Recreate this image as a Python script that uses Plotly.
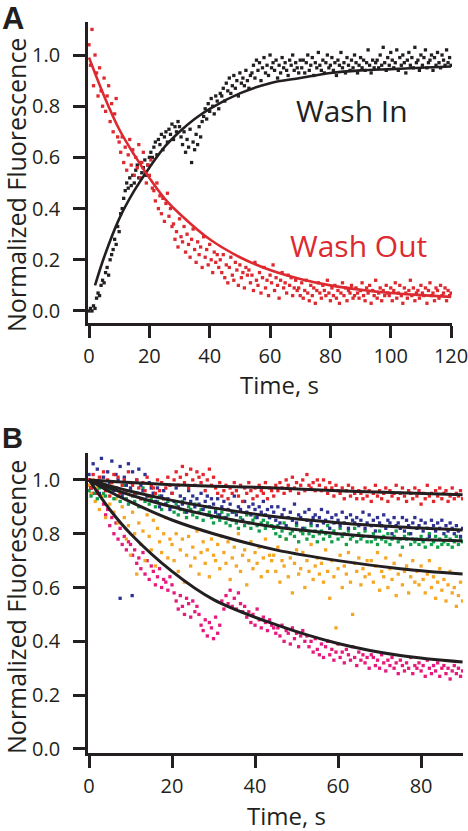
import numpy as np
import plotly.graph_objects as go

W, H = 468, 831
FONT = "Open Sans"
INK = "#231f20"

# ---------------- Panel A (values x100, sampled every 0.5 s) ----------------
a_step = 0.5
wash_in_x100 = [0,1,0,2,1, 5,7,6,10,12,11, 15,17,14,20,22, 24,28,26,33,31,38,40,
    44,47,50,48,52,49, 53,50,55,57,52,58,54,56,59,53,57,60,
    62,60,64,66,61,67,65,69,63,68,70,66,71,69,73,67,72,70,74,
    72,68,65,70,62,67,64,71,58,66,63,69,65,72,68,74,
    76,79,75,81,78,83,80,77,84,82,79,85,
    84,87,82,89,86,91,85,88,92,87,90,84,93,89,91,88,94,90,87,92,
    93,96,91,98,94,97,90,95,99,93,96,92,100,95,97,94,98,91,96,93,99,95,97,94,92,98,96,100,94,97,95,93,98,
    95,98,93,97,100,94,96,99,92,97,95,101,96,94,98,93,97,100,95,96,99,94,97,92,98,96,101,95,97,93,99,96,94,98,95,100,97,93,96,99,95,98,94,97,102,96,93,98,95,97,
    98,95,100,96,103,97,94,99,96,101,98,95,97,102,94,99,96,100,97,93,98,101,96,99,95,103,97,98,94,100,96,99,102,95,97,98,100,94,99,96,101,97,95,100,98,96,102,97,99,96]
wash_out_x100 = [104,96,110,88,100,93,84,
    95,86,80,91,78,84,88,74,81,70,77,83,68,
    66,62,68,58,64,55,61,67,57,63,53,60,56,65,52,58,62,54,50,57,53,59,48,
    47,43,50,40,45,38,44,35,42,46,37,40,33,
    34,28,31,25,36,29,27,33,23,30,26,21,28,32,24,19,27,22,25,17,29,21,24,18,26,20,15,23,19,22,17,
    20,15,22,13,18,11,17,21,14,12,19,16,10,18,13,15,9,17,14,
    16,11,14,8,19,12,10,15,7,13,17,9,12,6,14,11,18,8,13,10,5,12,15,9,11,7,14,10,13,6,9,12,8,
    9,6,11,5,8,12,7,4,10,6,9,3,8,11,7,5,10,8,6,12,
    7,4,9,6,10,5,8,3,7,11,6,9,4,8,7,10,5,6,9,7,
    5,8,11,6,4,9,7,10,3,8,6,12,5,7,9,4,8,6,10,7,
    6,9,4,8,11,5,7,10,6,3,9,7,5,8,12,6,9,4,7,8,
    5,10,7,6,9,3,8,11,6,7,4,9,8,5,10,6,7,9,4,8,6,7]
wash_in_fit_t = [2, 5, 10, 15, 20, 25, 30, 35, 40, 50, 60, 70, 80, 90, 100, 110, 120]
wash_in_fit = [0.10, 0.21, 0.36, 0.47, 0.56, 0.64, 0.70, 0.75, 0.79, 0.85, 0.89, 0.91, 0.93, 0.94, 0.945, 0.95, 0.955]
wash_out_fit_t = [0, 5, 10, 15, 20, 25, 30, 40, 50, 60, 70, 80, 90, 100, 110, 120]
wash_out_fit = [0.99, 0.84, 0.71, 0.61, 0.52, 0.44, 0.38, 0.28, 0.21, 0.16, 0.125, 0.10, 0.083, 0.07, 0.062, 0.055]
a_xticks = [0, 20, 40, 60, 80, 100, 120]
yticks = [0.0, 0.2, 0.4, 0.6, 0.8, 1.0]

# ---------------- Panel B (values x100, sampled every 0.5 s) ----------------
b_step = 0.5
b_red_x100 = [100,97,102,99,95,101,98,103,96,100,94,99,102,97,101,95,98,100,96,103,99,
    98,95,100,97,93,99,96,101,94,98,97,95,100,96,99,93,97,101,98,95,
    100,103,98,101,105,99,102,97,104,100,98,103,101,99,102,96,100,104,98,101,
    97,95,99,94,96,98,93,97,95,99,96,94,98,92,97,95,99,96,93,97,94,98,96,95,99,93,97,96,94,98,
    96,99,97,95,100,98,96,101,97,99,95,98,100,96,102,98,97,99,96,100,
    98,96,100,97,95,99,97,94,98,96,95,97,93,96,98,94,97,95,93,96,
    95,93,97,94,96,92,95,98,94,96,93,95,97,92,96,94,95,98,93,95,97,94,92,96,95,93,97,94,96,91,95,93,98,94,95,92,96,94,97,93,95,96,92,94,97,93,95,94,96,93]
b_blue_x100 = [102,97,106,99,104,95,108,101,97,103,99,107,96,102,100,105,94,101,98,106,97,103,95,100,104,98,96,102,94,99,97,
    95,92,97,90,94,96,91,93,89,95,92,97,90,94,91,93,88,96,92,94,90,93,91,95,89,92,94,90,93,
    91,88,93,87,90,92,86,89,91,88,94,87,90,89,85,92,88,90,87,91,89,86,90,88,92,87,89,86,90,
    88,85,90,84,87,89,83,86,88,85,91,84,87,86,82,88,85,89,84,86,
    87,83,86,89,84,85,88,82,86,84,87,85,83,88,84,86,82,87,85,84,
    86,83,85,88,82,84,87,83,85,81,86,84,83,87,82,85,84,80,86,83,
    84,82,86,81,85,83,80,84,86,82,83,85,81,84,82,79,85,83,81,84,
    82,85,80,83,81,84,82,80,83,81,79,82]
b_blue_outlier_t = [7.5, 10.4]
b_blue_outlier_x100 = [56, 57]
b_green_x100 = [96,94,98,95,93,97,99,95,94,97,96,
    96,93,97,94,92,95,98,93,91,96,94,92,95,90,93,97,92,94,91,93,95,90,92,94,89,93,91,92,90,
    90,88,91,87,89,92,88,86,90,89,87,91,86,88,89,85,90,87,88,86,84,89,87,85,88,
    86,84,87,83,85,88,84,82,86,85,83,87,84,82,85,86,83,81,84,85,82,84,86,83,
    82,80,83,79,81,84,78,82,80,81,79,83,77,81,80,82,78,80,83,79,81,77,80,
    81,78,80,83,79,77,81,80,78,82,79,80,76,81,78,79,82,77,80,78,79,81,77,
    79,77,80,78,76,81,78,79,77,80,76,78,79,81,77,78,75,79,78,80,76,78,77,
    78,76,79,77,75,78,80,76,77,79,75,78,76,77,79,76,78,75,77,79,76,78,77]
b_orange_x100 = [98,95,100,92,97,89,101,94,86,96,91,99,88,93,84,95,90,
    86,78,83,72,88,80,65,84,76,81,70,87,79,74,85,68,82,77,73,80,86,71,78,
    76,70,80,66,74,78,62,72,79,68,75,71,81,65,73,77,69,74,64,78,72,70,76,67,79,
    73,69,77,63,71,75,68,80,66,72,74,61,70,77,67,73,69,75,64,71,78,66,72,70,
    72,66,75,62,70,68,78,64,71,58,69,74,65,67,73,60,70,66,76,63,68,71,65,
    69,62,74,66,56,70,64,45,67,72,60,68,65,73,62,50,69,66,71,61,67,64,70,
    65,70,62,68,73,59,66,64,71,60,67,63,69,57,65,72,61,66,68,58,64,70,62,
    66,61,68,63,58,65,70,60,64,56,62,67,59,63,55,61,66,58,60,53,57,62,55]
b_pink_x100 = [100,97,95,99,96,98,94,
    91,87,89,83,86,80,84,78,82,76,79,74,77,
    76,72,74,69,71,67,73,65,70,63,68,66,61,64,67,60,63,62,59,64,61,
    58,55,52,57,53,50,56,54,49,55,51,53,
    50,46,44,48,42,47,45,41,49,43,46,
    55,52,57,54,59,53,56,52,58,54,51,
    53,49,51,47,50,46,52,48,45,49,47,44,48,46,45,43,
    45,42,46,40,44,43,39,45,41,43,38,42,44,40,
    42,38,40,36,41,37,35,39,34,38,40,35,37,33,36,39,34,36,32,37,35,33,38,34,31,36,33,35,32,34,30,35,
    34,31,33,30,35,32,29,33,31,34,30,32,28,33,31,29,32,30,34,28,31,30,
    32,29,31,27,33,30,28,31,29,32,27,30,31,28,30,26,29,31,28,30,27,29]
b_fit_t = [0, 5, 10, 20, 30, 45, 60, 75, 90]
b_fit_red = [1.0, 0.995, 0.99, 0.982, 0.976, 0.97, 0.96, 0.952, 0.945]
b_fit_blue = [1.0, 0.978, 0.958, 0.924, 0.896, 0.863, 0.841, 0.825, 0.814]
b_fit_green = [1.0, 0.97, 0.944, 0.90, 0.865, 0.825, 0.80, 0.782, 0.773]
b_fit_orange = [1.0, 0.956, 0.918, 0.851, 0.80, 0.74, 0.70, 0.67, 0.65]
b_fit_pink = [1.0, 0.89, 0.80, 0.66, 0.555, 0.462, 0.392, 0.347, 0.323]
b_xticks = [0, 20, 40, 60, 80]

RED_A = "#dc2a30"
B_COLORS = {"red": "#e3262d", "blue": "#2e3192", "green": "#10a04a",
            "orange": "#f5a623", "pink": "#e61a7d"}


def times(vals, step):
    return np.arange(len(vals)) * step


def dots(t, v, color, xa, ya, size=3.3):
    return go.Scatter(x=t, y=np.array(v) / 100.0, mode="markers", xaxis=xa, yaxis=ya,
                      marker=dict(symbol="square", size=size, color=color, line=dict(width=0)),
                      showlegend=False, hoverinfo="skip")


def fitline(t, v, color, xa, ya, width=2.6):
    return go.Scatter(x=t, y=v, mode="lines", xaxis=xa, yaxis=ya,
                      line=dict(color=color, width=width, shape="spline"),
                      showlegend=False, hoverinfo="skip")


fig = go.Figure()
# Panel A
fig.add_trace(dots(times(wash_in_x100, a_step), wash_in_x100, INK, "x", "y"))
fig.add_trace(dots(times(wash_out_x100, a_step), wash_out_x100, RED_A, "x", "y"))
fig.add_trace(fitline(wash_in_fit_t, wash_in_fit, INK, "x", "y"))
fig.add_trace(fitline(wash_out_fit_t, wash_out_fit, RED_A, "x", "y"))
# Panel B
fig.add_trace(dots(times(b_pink_x100, b_step), b_pink_x100, B_COLORS["pink"], "x2", "y2"))
fig.add_trace(dots(times(b_orange_x100, b_step), b_orange_x100, B_COLORS["orange"], "x2", "y2"))
fig.add_trace(dots(times(b_green_x100, b_step), b_green_x100, B_COLORS["green"], "x2", "y2"))
fig.add_trace(dots(times(b_blue_x100, b_step), b_blue_x100, B_COLORS["blue"], "x2", "y2"))
fig.add_trace(dots(b_blue_outlier_t, b_blue_outlier_x100, B_COLORS["blue"], "x2", "y2"))
fig.add_trace(dots(times(b_red_x100, b_step), b_red_x100, B_COLORS["red"], "x2", "y2"))
for fv in [b_fit_red, b_fit_blue, b_fit_green, b_fit_orange, b_fit_pink]:
    fig.add_trace(fitline(b_fit_t, fv, INK, "x2", "y2", width=3))


def px_x(p):
    return p / W


def px_y(p):
    return 1 - p / H


axis_common = dict(showline=True, linecolor=INK, linewidth=2.6, ticks="outside", ticklen=12,
                   tickwidth=2.6, tickcolor=INK, showgrid=False, zeroline=False,
                   ticklabeloverflow="allow", automargin=False,
                   tickfont=dict(family=FONT, size=20, color=INK))

fig.update_layout(
    width=W, height=H, margin=dict(l=0, r=0, t=0, b=0, pad=0),
    paper_bgcolor="white", plot_bgcolor="white", showlegend=False,
    xaxis=dict(domain=[px_x(88), px_x(452)], range=[-0.33, 120.3], anchor="y",
               tickvals=a_xticks, ticklabelstandoff=1, **axis_common),
    yaxis=dict(domain=[px_y(323), px_y(22)], range=[-0.047, 1.129], anchor="x",
               tickvals=yticks, tickformat=".1f", ticklabelstandoff=9, **axis_common),
    xaxis2=dict(domain=[px_x(88), px_x(463)], range=[-0.24, 90.1], anchor="y2",
                tickvals=b_xticks, ticklabelstandoff=1, **axis_common),
    yaxis2=dict(domain=[px_y(753), px_y(453)], range=[-0.015, 1.10], anchor="x2",
                tickvals=yticks, tickformat=".1f", ticklabelstandoff=9, **axis_common),
)


def ann(text, x, y, size, color=INK, angle=0, family=FONT, xanchor="center"):
    fig.add_annotation(text=text, x=px_x(x), y=px_y(y), xref="paper", yref="paper",
                       showarrow=False, textangle=angle, xanchor=xanchor, yanchor="middle",
                       font=dict(family=family, size=size, color=color))


ann("<b>A</b>", 0, 19, 31, family="Liberation Sans", xanchor="left")
ann("<b>B</b>", 0, 438, 29, family="Liberation Sans", xanchor="left")
ann("Normalized Fluorescence", 16, 185, 25, angle=-90)
ann("Normalized Fluorescence", 16, 607, 25, angle=-90)
ann("Time, s", 279, 384, 24)
ann("Time, s", 286, 815, 24)
ann("Wash In", 352, 110, 30)
ann("Wash Out", 358, 245, 30, color=RED_A)

fig.write_html("out.html", config={"displayModeBar": False},
               post_script="document.body.style.margin='0px';"
                           "document.body.style.overflow='hidden';")
